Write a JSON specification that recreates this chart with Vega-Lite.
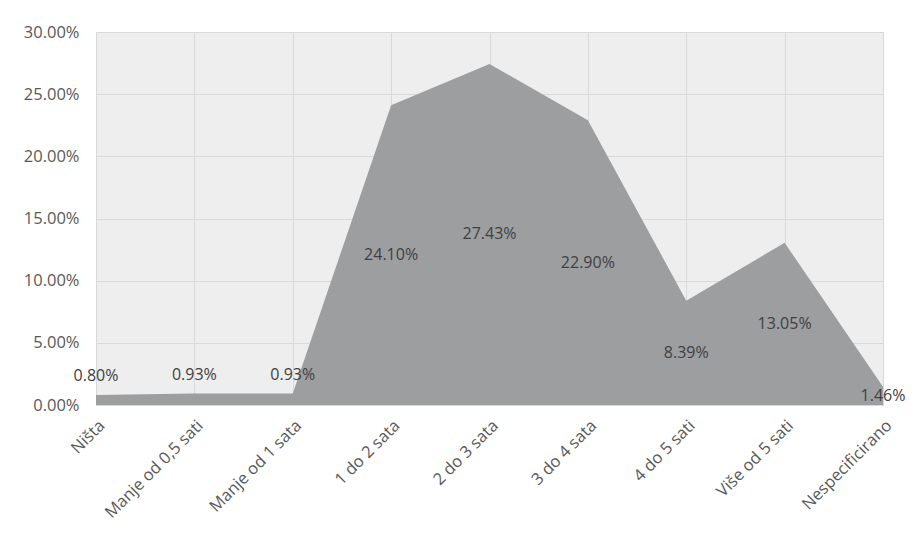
{
  "$schema": "https://vega.github.io/schema/vega-lite/v6.json",
  "width": 787,
  "height": 373,
  "autosize": {"type": "none"},
  "padding": {"left": 96, "top": 32, "right": 31, "bottom": 131},
  "background": "white",
  "config": {
    "view": {"stroke": "#d9d9d9", "fill": "#eeeeee"},
    "font": "Open Sans",
    "axis": {
      "labelFont": "Open Sans",
      "labelFontSize": 16.5,
      "labelColor": "#595959",
      "gridColor": "#d9d9d9",
      "gridWidth": 1,
      "ticks": false,
      "title": null
    }
  },
  "data": {
    "values": [
      {"category": "Ništa", "value": 0.008},
      {"category": "Manje od 0,5 sati", "value": 0.0093},
      {"category": "Manje od 1 sata", "value": 0.0093},
      {"category": "1 do 2 sata", "value": 0.241},
      {"category": "2 do 3 sata", "value": 0.2743},
      {"category": "3 do 4 sata", "value": 0.229},
      {"category": "4 do 5 sati", "value": 0.0839},
      {"category": "Više od 5 sati", "value": 0.1305},
      {"category": "Nespecificirano", "value": 0.0146}
    ]
  },
  "encoding": {
    "x": {
      "field": "category",
      "type": "nominal",
      "sort": null,
      "scale": {"type": "point", "padding": 0},
      "axis": {
        "labelAngle": -45,
        "labelPadding": 12,
        "grid": true,
        "domain": true,
        "domainColor": "#d9d9d9"
      }
    }
  },
  "layer": [
    {
      "mark": {"type": "area", "color": "#9d9ea0", "opacity": 1},
      "encoding": {
        "y": {
          "field": "value",
          "type": "quantitative",
          "scale": {"domain": [0, 0.3], "nice": false},
          "axis": {
            "values": [0, 0.05, 0.1, 0.15, 0.2, 0.25, 0.3],
            "format": ".2%",
            "domain": false,
            "grid": true,
            "labelPadding": 17
          }
        }
      }
    },
    {
      "transform": [
        {"calculate": "datum.value < 0.012 ? datum.value + 0.015 : datum.value / 2", "as": "labelY"}
      ],
      "mark": {"type": "text", "fontSize": 16, "color": "#404040", "font": "Open Sans"},
      "encoding": {
        "y": {"field": "labelY", "type": "quantitative"},
        "text": {"field": "value", "type": "quantitative", "format": ".2%"}
      }
    }
  ]
}
